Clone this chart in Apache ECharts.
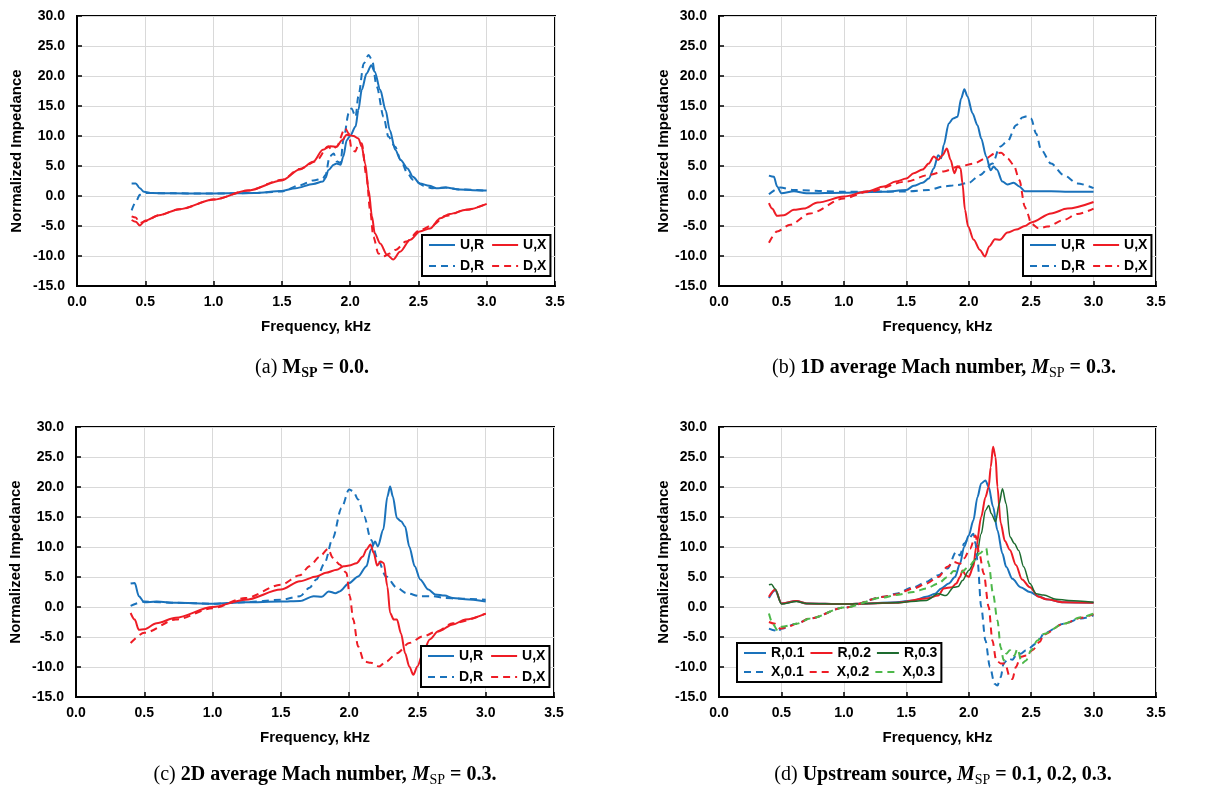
<!DOCTYPE html>
<html><head><meta charset="utf-8">
<script src="https://cdn.jsdelivr.net/npm/echarts@6/dist/echarts.min.js"></script>
<style>html,body{margin:0;padding:0;background:#fff}#c{width:1223px;height:794px}</style>
</head><body><div id="c"></div>
<script>
// ---------- DATA (frequency kHz, normalized impedance) ----------
// Panel (a) M_SP = 0.0
const aUR = [[0.40,2.1],[0.43,2.1],[0.46,1.3],[0.49,0.7],[0.55,0.5],[0.7,0.45],[0.9,0.4],[1.1,0.45],[1.3,0.5],[1.5,0.85],[1.6,1.3],[1.73,2.0],[1.8,2.4],[1.82,3.0],[1.84,4.3],[1.88,5.2],[1.9,5.4],[1.93,5.2],[1.95,6.6],[1.975,9.3],[2.0,10.0],[2.04,11.6],[2.06,14.3],[2.085,17.7],[2.12,20.4],[2.155,21.8],[2.18,20.7],[2.22,17.7],[2.26,14.3],[2.29,11.0],[2.33,7.7],[2.37,6.0],[2.42,4.6],[2.46,3.2],[2.51,2.1],[2.58,1.7],[2.63,1.3],[2.7,1.4],[2.8,1.1],[2.9,0.95],[3.0,0.9]];
const aDR = [[0.40,-2.4],[0.43,-1.0],[0.46,0.2],[0.5,0.5],[0.7,0.45],[1.0,0.4],[1.3,0.5],[1.5,0.75],[1.63,1.8],[1.73,2.6],[1.8,2.9],[1.82,3.5],[1.85,6.6],[1.88,7.1],[1.9,5.8],[1.93,5.5],[1.95,9.3],[1.99,13.8],[2.01,14.6],[2.04,13.2],[2.06,16.6],[2.1,22.1],[2.135,23.5],[2.16,22.7],[2.195,18.2],[2.245,13.2],[2.28,9.9],[2.33,8.2],[2.37,6.0],[2.42,3.8],[2.46,2.7],[2.54,1.7],[2.6,1.3],[2.7,1.4],[2.8,1.1],[3.0,0.9]];
const aUX = [[0.40,-4.0],[0.43,-4.3],[0.46,-4.9],[0.5,-4.1],[0.6,-3.2],[0.75,-2.2],[1.0,-0.6],[1.25,0.9],[1.5,2.6],[1.63,4.4],[1.73,5.7],[1.8,7.7],[1.855,8.3],[1.9,8.2],[1.94,9.3],[1.975,10.2],[2.025,10.0],[2.06,9.6],[2.085,8.2],[2.11,5.4],[2.135,1.0],[2.16,-3.4],[2.18,-6.2],[2.22,-7.9],[2.27,-9.8],[2.315,-10.6],[2.365,-9.3],[2.44,-7.3],[2.51,-5.9],[2.585,-5.4],[2.66,-3.7],[2.73,-3.0],[2.85,-2.3],[3.0,-1.3]];
const aDX = [[0.40,-3.4],[0.43,-3.6],[0.46,-4.5],[0.5,-4.2],[0.6,-3.2],[0.75,-2.2],[1.0,-0.6],[1.25,0.9],[1.5,2.7],[1.63,4.5],[1.75,5.8],[1.84,8.3],[1.865,7.7],[1.9,8.2],[1.963,11.3],[1.99,10.4],[2.01,7.9],[2.037,7.4],[2.06,8.5],[2.085,8.8],[2.12,3.2],[2.146,-2.3],[2.17,-6.8],[2.207,-9.6],[2.24,-10.1],[2.29,-9.6],[2.33,-9.0],[2.41,-7.6],[2.51,-5.7],[2.6,-4.9],[2.7,-3.3],[2.85,-2.3],[3.0,-1.3]];
// Panel (b) 1D average Mach number
const bUR = [[0.40,3.4],[0.44,3.2],[0.465,1.6],[0.5,0.45],[0.6,0.8],[0.7,0.45],[1.0,0.55],[1.32,0.7],[1.5,1.0],[1.56,1.7],[1.63,2.2],[1.68,2.9],[1.72,4.6],[1.755,6.8],[1.78,6.3],[1.8,8.5],[1.84,12.1],[1.875,12.9],[1.91,13.2],[1.94,16.3],[1.965,17.8],[1.99,16.6],[2.03,13.8],[2.07,11.8],[2.1,9.6],[2.14,6.6],[2.175,4.3],[2.2,4.9],[2.225,4.4],[2.27,2.4],[2.31,1.9],[2.36,2.2],[2.405,1.6],[2.45,0.8],[2.5,0.8],[2.66,0.8],[2.8,0.7],[3.0,0.7]];
const bDR = [[0.40,0.3],[0.49,1.4],[0.6,1.0],[1.0,0.7],[1.5,0.75],[1.68,1.0],[1.8,1.6],[1.9,1.8],[2.0,2.2],[2.09,3.5],[2.19,5.4],[2.25,8.2],[2.31,9.1],[2.38,11.8],[2.43,13.1],[2.47,13.3],[2.5,12.9],[2.54,10.4],[2.58,7.7],[2.66,5.4],[2.76,3.5],[2.87,2.1],[3.0,1.3]];
const bUX = [[0.40,-1.2],[0.425,-2.1],[0.465,-3.3],[0.52,-3.2],[0.6,-2.3],[0.68,-2.1],[0.79,-1.1],[1.0,-0.1],[1.19,0.8],[1.32,1.6],[1.415,2.4],[1.5,2.9],[1.56,3.8],[1.63,4.4],[1.68,5.4],[1.72,6.6],[1.755,6.0],[1.79,6.8],[1.825,7.9],[1.855,6.0],[1.885,3.8],[1.91,4.9],[1.935,4.6],[1.95,2.1],[1.97,-2.3],[1.995,-5.1],[2.04,-7.3],[2.09,-9.0],[2.13,-10.1],[2.165,-8.4],[2.21,-7.2],[2.25,-7.3],[2.31,-6.1],[2.38,-5.6],[2.45,-5.0],[2.5,-4.4],[2.66,-2.9],[2.79,-2.1],[3.0,-1.0]];
const bDX = [[0.40,-7.8],[0.465,-5.9],[0.57,-4.8],[0.73,-2.9],[1.0,-0.4],[1.19,0.7],[1.5,2.4],[1.68,3.5],[1.8,4.1],[1.92,4.9],[2.04,5.4],[2.14,6.3],[2.21,7.1],[2.26,7.2],[2.31,6.3],[2.36,5.2],[2.405,2.7],[2.45,-1.8],[2.47,-2.9],[2.5,-4.6],[2.56,-5.4],[2.63,-5.1],[2.76,-4.0],[2.87,-3.0],[3.0,-2.1]];
// Panel (c) 2D average Mach number
const cUR = [[0.40,3.9],[0.43,4.0],[0.46,1.8],[0.5,0.8],[0.59,0.9],[0.73,0.7],[1.0,0.55],[1.24,0.8],[1.5,0.9],[1.64,1.0],[1.74,1.8],[1.8,1.7],[1.85,2.6],[1.9,2.3],[1.93,2.6],[2.0,4.0],[2.066,5.1],[2.127,6.8],[2.16,9.6],[2.19,10.9],[2.21,10.1],[2.25,12.9],[2.28,18.4],[2.3,20.1],[2.32,18.4],[2.35,14.8],[2.38,14.3],[2.41,13.4],[2.44,10.1],[2.48,6.8],[2.52,4.6],[2.58,2.9],[2.63,2.1],[2.7,1.9],[2.76,1.5],[2.85,1.3],[3.0,0.9]];
const cDR = [[0.40,0.2],[0.5,0.9],[0.73,0.7],[1.0,0.55],[1.24,0.8],[1.5,1.2],[1.64,1.8],[1.71,3.2],[1.76,4.6],[1.82,7.3],[1.88,11.5],[1.944,16.5],[2.0,19.6],[2.03,19.3],[2.066,17.9],[2.11,15.1],[2.16,11.2],[2.21,7.9],[2.27,5.1],[2.35,3.2],[2.42,2.3],[2.52,1.8],[2.61,1.8],[2.7,1.5],[2.8,1.4],[3.0,1.2]];
const cUX = [[0.40,-1.0],[0.43,-2.1],[0.46,-3.8],[0.5,-3.7],[0.59,-2.7],[0.73,-1.8],[1.0,0.0],[1.24,1.2],[1.5,2.9],[1.64,4.3],[1.76,5.1],[1.83,5.7],[1.91,6.2],[1.96,6.8],[2.0,6.9],[2.054,7.3],[2.1,8.4],[2.127,9.6],[2.156,10.4],[2.18,9.0],[2.205,6.9],[2.23,7.6],[2.254,7.3],[2.28,3.4],[2.3,-1.0],[2.327,-2.1],[2.35,-2.1],[2.38,-4.4],[2.41,-7.7],[2.44,-9.9],[2.47,-11.3],[2.5,-9.9],[2.54,-7.7],[2.59,-5.4],[2.65,-4.1],[2.76,-2.9],[2.85,-2.1],[3.0,-1.1]];
const cDX = [[0.40,-6.0],[0.5,-4.3],[0.73,-2.1],[1.0,-0.2],[1.24,1.5],[1.5,3.7],[1.64,5.3],[1.71,6.8],[1.785,8.4],[1.846,9.7],[1.88,8.2],[1.93,7.1],[1.98,5.7],[2.005,1.8],[2.03,-2.1],[2.066,-6.6],[2.11,-9.1],[2.16,-9.3],[2.22,-9.9],[2.27,-9.1],[2.35,-7.7],[2.44,-6.0],[2.54,-4.9],[2.64,-4.1],[2.76,-2.7],[3.0,-1.1]];
// Panel (d) Upstream source, M_SP = 0.1, 0.2, 0.3
const dR1 = [[0.40,1.5],[0.45,2.8],[0.5,0.6],[0.62,1.0],[0.7,0.6],[1.0,0.5],[1.2,0.6],[1.415,0.8],[1.56,1.1],[1.66,1.7],[1.73,2.2],[1.78,3.1],[1.84,3.9],[1.89,5.0],[1.93,7.2],[1.963,10.0],[2.0,11.9],[2.037,14.4],[2.07,18.3],[2.1,20.6],[2.134,21.1],[2.16,20.0],[2.195,16.7],[2.23,12.8],[2.27,8.9],[2.3,6.7],[2.35,4.7],[2.415,3.3],[2.49,2.5],[2.56,1.8],[2.62,1.3],[2.76,0.8],[3.0,0.7]];
const dR2 = [[0.40,1.7],[0.45,2.9],[0.5,0.6],[0.62,1.0],[0.7,0.6],[1.0,0.5],[1.2,0.6],[1.415,0.7],[1.66,1.4],[1.756,1.9],[1.8,3.1],[1.866,3.3],[1.9,3.9],[1.93,5.0],[1.95,6.1],[1.976,5.3],[2.0,5.0],[2.037,6.7],[2.06,10.0],[2.1,15.0],[2.134,18.3],[2.16,20.0],[2.176,23.3],[2.195,26.7],[2.215,25.0],[2.23,20.0],[2.256,14.0],[2.29,11.0],[2.33,9.5],[2.378,7.0],[2.427,4.6],[2.49,3.3],[2.56,1.7],[2.62,1.3],[2.76,0.8],[3.0,0.7]];
const dR3 = [[0.40,3.7],[0.42,3.8],[0.45,3.0],[0.5,0.5],[0.62,0.9],[0.7,0.6],[1.0,0.5],[1.2,0.6],[1.415,0.7],[1.66,1.1],[1.756,2.2],[1.817,1.9],[1.88,3.3],[1.915,3.4],[1.95,4.4],[2.0,6.1],[2.06,8.1],[2.1,12.2],[2.134,16.1],[2.16,16.9],[2.18,15.6],[2.215,14.2],[2.244,17.2],[2.27,19.7],[2.3,17.2],[2.33,11.7],[2.366,10.6],[2.4,9.4],[2.44,6.7],[2.49,3.9],[2.54,2.2],[2.6,2.0],[2.7,1.3],[2.8,1.1],[3.0,0.8]];
const dX1 = [[0.40,-3.6],[0.45,-3.9],[0.47,-4.2],[0.5,-3.6],[0.62,-2.8],[0.73,-1.9],[1.0,-0.1],[1.32,1.7],[1.415,2.2],[1.56,3.3],[1.66,4.2],[1.756,5.3],[1.83,6.4],[1.9,9.2],[1.93,8.6],[1.963,10.6],[2.0,11.4],[2.037,12.2],[2.054,10.6],[2.07,7.8],[2.1,0.0],[2.134,-5.6],[2.17,-10.0],[2.207,-12.8],[2.23,-13.1],[2.256,-11.7],[2.28,-9.4],[2.317,-8.6],[2.35,-8.8],[2.378,-8.1],[2.415,-7.8],[2.46,-7.2],[2.54,-6.1],[2.57,-5.3],[2.6,-4.4],[2.76,-2.8],[2.9,-1.9],[3.0,-1.4]];
const dX2 = [[0.40,-2.5],[0.45,-2.8],[0.49,-3.6],[0.55,-3.3],[0.62,-2.8],[0.73,-1.9],[1.0,-0.1],[1.32,1.7],[1.415,2.1],[1.56,3.1],[1.66,3.9],[1.756,5.0],[1.83,6.7],[1.88,7.5],[1.93,7.2],[1.963,8.1],[2.01,9.7],[2.054,11.9],[2.085,8.9],[2.12,5.6],[2.16,0.0],[2.19,-5.6],[2.22,-8.9],[2.256,-9.4],[2.29,-9.4],[2.33,-11.7],[2.35,-12.0],[2.378,-10.0],[2.415,-8.3],[2.46,-8.1],[2.51,-7.2],[2.57,-5.8],[2.6,-4.6],[2.76,-2.8],[2.9,-1.8],[3.0,-1.2]];
const dX3 = [[0.40,-1.1],[0.43,-2.8],[0.47,-3.9],[0.5,-3.3],[0.62,-2.8],[0.73,-1.9],[1.0,-0.1],[1.32,1.6],[1.415,2.0],[1.56,2.5],[1.66,3.1],[1.756,3.9],[1.83,5.0],[1.88,6.0],[1.94,5.8],[2.0,6.7],[2.05,7.8],[2.085,8.9],[2.14,9.8],[2.16,7.2],[2.195,2.2],[2.23,-2.2],[2.256,-6.7],[2.28,-8.9],[2.3,-7.8],[2.33,-7.2],[2.366,-8.1],[2.39,-7.0],[2.427,-9.4],[2.46,-8.9],[2.5,-7.2],[2.55,-5.6],[2.6,-4.5],[2.76,-2.8],[2.9,-1.7],[3.0,-1.1]];

const legendA = ['U,R','U,X','D,R','D,X'];
const legendD = ['R,0.1','R,0.2','R,0.3','X,0.1','X,0.2','X,0.3'];
const xName = 'Frequency, kHz';
const yName = 'Normalized Impedance';

// ---------- STYLE ----------
const F = 'Liberation Sans, Arial, sans-serif';
const SERIF = 'Liberation Serif, Times New Roman, serif';
const BLUE = '#1a72bb', RED = '#ee1c25', DGREEN = '#1d6b2f', LGREEN = '#4db84a';
const DASH = [7, 5];

const grids = [
  {left: 77, top: 16, width: 478, height: 270},
  {left: 719, top: 16, width: 437, height: 270},
  {left: 76, top: 427, width: 478, height: 270},
  {left: 719, top: 427, width: 437, height: 270}
].map(g => Object.assign(g, {show: true, borderColor: '#000', borderWidth: 2, backgroundColor: 'transparent'}));

const yGaps = [53, 48, 53, 48];

function xAx(i) {
  return {
    gridIndex: i, type: 'value', min: 0, max: 3.5, interval: 0.5,
    name: xName, nameLocation: 'middle', nameGap: 33,
    nameTextStyle: {fontFamily: F, fontWeight: 'bold', fontSize: 15, color: '#000'},
    axisLine: {show: true, onZero: false, lineStyle: {color: '#000', width: 2}},
    axisTick: {show: true, inside: true, length: 5, lineStyle: {color: '#000', width: 1.5}},
    axisLabel: {margin: 9, formatter: v => v.toFixed(1), fontFamily: F, fontWeight: 'bold', fontSize: 14, color: '#000'},
    splitLine: {show: true, lineStyle: {color: '#d9d9d9', width: 1}}
  };
}
function yAx(i) {
  return {
    gridIndex: i, type: 'value', min: -15, max: 30, interval: 5,
    name: yName, nameLocation: 'middle', nameGap: yGaps[i], nameRotate: 90,
    nameTextStyle: {fontFamily: F, fontWeight: 'bold', fontSize: 15, color: '#000'},
    axisLine: {show: true, onZero: false, lineStyle: {color: '#000', width: 2}},
    axisTick: {show: true, inside: true, length: 5, lineStyle: {color: '#000', width: 1.5}},
    axisLabel: {margin: 12, formatter: v => v.toFixed(1), fontFamily: F, fontWeight: 'bold', fontSize: 14, color: '#000'},
    splitLine: {show: true, lineStyle: {color: '#d9d9d9', width: 1}}
  };
}
function ser(name, data, i, color, dashed, width) {
  return {
    type: 'line', name: name, xAxisIndex: i, yAxisIndex: i, data: data,
    symbol: 'none', smooth: 0.3, smoothMonotone: 'x', silent: true,
    lineStyle: {color: color, width: width || 2, type: dashed ? DASH : 'solid'},
    itemStyle: {color: color}
  };
}
function leg(left, top, width, data, iw, gap) {
  return {
    left: left, top: top, width: width, orient: 'horizontal', selectedMode: false,
    itemWidth: iw, itemHeight: 14, itemGap: gap, padding: [3, 4, 3, 6],
    borderColor: '#000', borderWidth: 2, backgroundColor: '#fff',
    itemStyle: {opacity: 0, borderWidth: 0},
    textStyle: {fontFamily: F, fontWeight: 'bold', fontSize: 14, color: '#000'},
    data: data
  };
}

const series = [
  ser('U,R', aUR, 0, BLUE, false), ser('D,R', aDR, 0, BLUE, true),
  ser('D,X', aDX, 0, RED, true), ser('U,X', aUX, 0, RED, false),
  ser('U,R', bUR, 1, BLUE, false), ser('D,R', bDR, 1, BLUE, true),
  ser('D,X', bDX, 1, RED, true), ser('U,X', bUX, 1, RED, false),
  ser('U,R', cUR, 2, BLUE, false), ser('D,R', cDR, 2, BLUE, true),
  ser('D,X', cDX, 2, RED, true), ser('U,X', cUX, 2, RED, false),
  ser('R,0.1', dR1, 3, BLUE, false), ser('R,0.2', dR2, 3, RED, false), ser('R,0.3', dR3, 3, DGREEN, false, 1.5),
  ser('X,0.1', dX1, 3, BLUE, true), ser('X,0.2', dX2, 3, RED, true), ser('X,0.3', dX3, 3, LGREEN, true)
];

const capRich = {
  n: {fontFamily: SERIF, fontSize: 20, color: '#000', lineHeight: 24},
  b: {fontFamily: SERIF, fontSize: 20, fontWeight: 'bold', color: '#000', lineHeight: 24},
  i: {fontFamily: SERIF, fontSize: 20, fontWeight: 'bold', fontStyle: 'italic', color: '#000', lineHeight: 24},
  s: {fontFamily: SERIF, fontSize: 14, color: '#000', lineHeight: 14, padding: [10, 0, 0, 0]},
  sb: {fontFamily: SERIF, fontSize: 14, fontWeight: 'bold', color: '#000', lineHeight: 14, padding: [10, 0, 0, 0]}
};
function cap(x, y, text) {
  return {type: 'text', x: x, y: y, style: {text: text, rich: capRich, align: 'center', verticalAlign: 'middle'}};
}

const chart = echarts.init(document.getElementById('c'), null, {renderer: 'canvas'});
chart.setOption({
  animation: false,
  backgroundColor: '#fff',
  grid: grids,
  xAxis: [0, 1, 2, 3].map(xAx),
  yAxis: [0, 1, 2, 3].map(yAx),
  legend: [
    leg(422, 235, 122, legendA, 26, 7),
    leg(1023, 235, 122, legendA, 26, 7),
    leg(421, 646, 122, legendA, 26, 7),
    leg(737, 643, 210, legendD, 22, 5)
  ],
  series: series,
  graphic: [
    cap(312, 368, '{n|(a) }{b|M}{sb|SP}{b| = 0.0.}'),
    cap(944, 368, '{n|(b) }{b|1D average Mach number, }{i|M}{s|SP}{b| = 0.3.}'),
    cap(325, 775, '{n|(c) }{b|2D average Mach number, }{i|M}{s|SP}{b| = 0.3.}'),
    cap(943, 775, '{n|(d) }{b|Upstream source, }{i|M}{s|SP}{b| = 0.1, 0.2, 0.3.}')
  ]
});
</script>
</body></html>
